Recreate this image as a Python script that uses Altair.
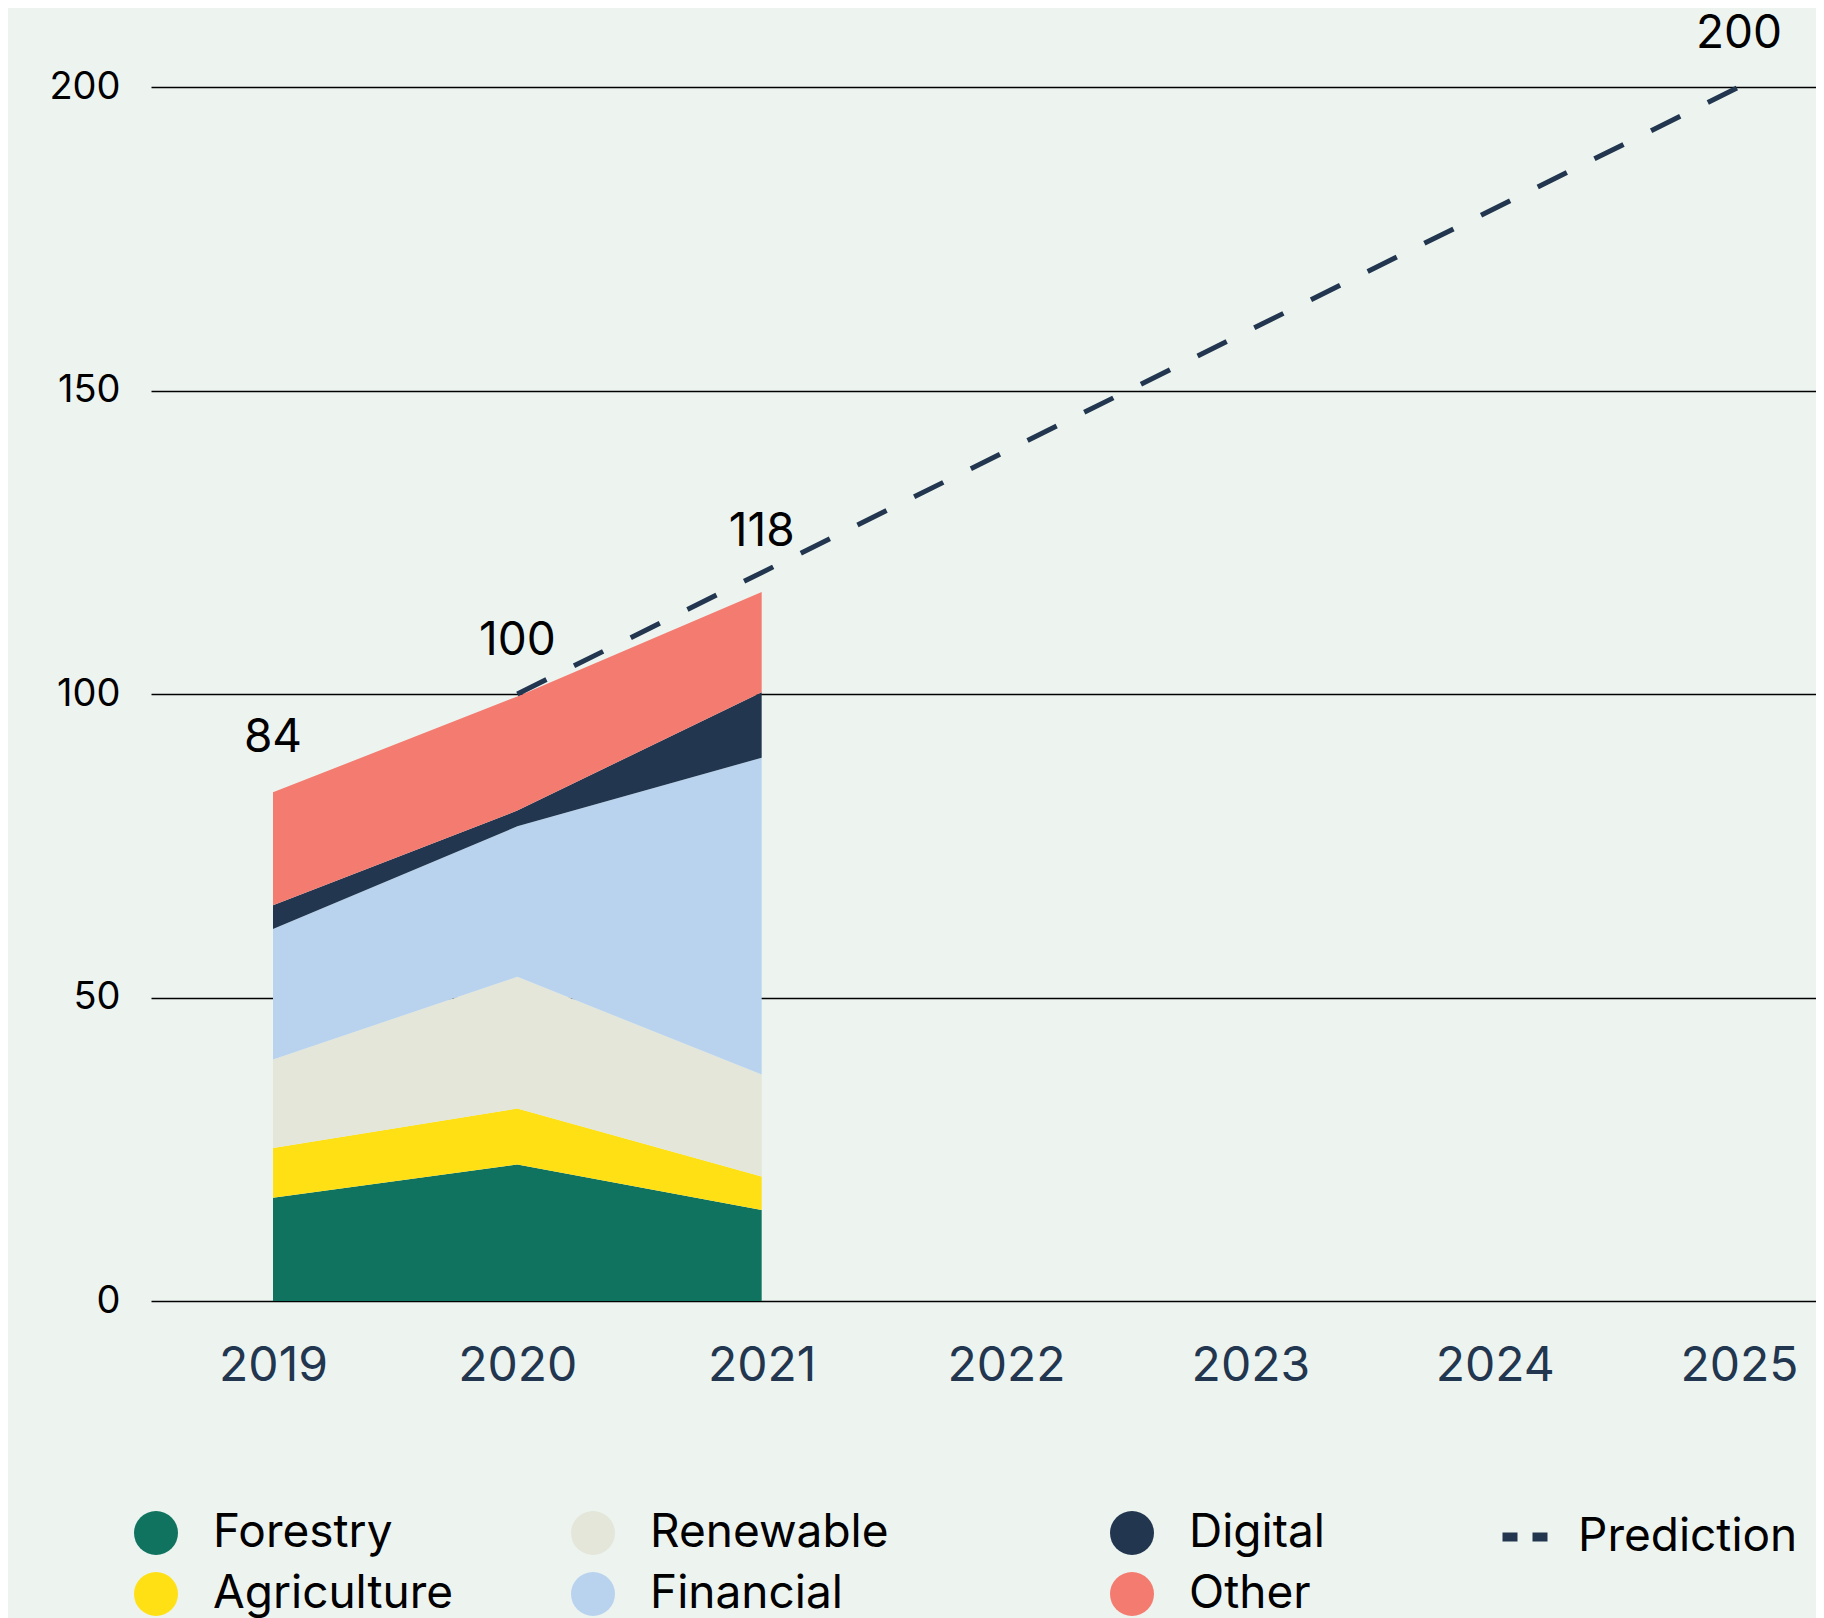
import altair as alt
import pandas as pd

FONT = "Inter"

# ---------------- data ----------------
years = [2019, 2020, 2021]
forestry = [17.0, 22.5, 15.0]
agriculture = [8.2, 9.2, 5.5]
renewable = [14.6, 21.7, 16.8]
financial = [21.5, 24.8, 52.2]
digital = [3.9, 2.6, 10.8]
other = [18.6, 18.8, 16.5]

categories = ["Forestry", "Agriculture", "Renewable", "Financial", "Digital", "Other"]
colors = ["#10735f", "#ffe015", "#e3e6d8", "#b9d3ef", "#22364f", "#f47b6f"]

pred_years = [2020, 2025]
pred_values = [100, 200]

label_years = [2019, 2020, 2021, 2025]
label_values = [84, 100, 118, 200]

x_ticks = [2019, 2020, 2021, 2022, 2023, 2024, 2025]
y_ticks = [0, 50, 100, 150, 200]

# ---------------- tables ----------------
series = [forestry, agriculture, renewable, financial, digital, other]
rows = []
cum = [0.0] * len(years)
for cat, vals in zip(categories, series):
    for i, yr in enumerate(years):
        rows.append({"year": yr, "category": cat, "y0": cum[i], "y1": cum[i] + vals[i]})
        cum[i] += vals[i]
stacked = pd.DataFrame(rows)

pred_df = pd.DataFrame({"year": pred_years, "value": pred_values})
pred_key_df = pd.DataFrame({"year": pred_years[:1], "value": pred_values[:1], "series": ["Prediction"]})
label_df = pd.DataFrame({"year": label_years, "value": label_values})

xscale = alt.Scale(domain=[2018.5007, 2025.315], nice=False, zero=False)
yscale = alt.Scale(domain=[0, 200], nice=False)

xaxis = alt.Axis(values=x_ticks, format="d", title=None, grid=False, domain=False, ticks=False,
                 tickSize=0, labelPadding=41, labelFontSize=48, labelColor="#22364f",
                 labelFont=FONT, labelAngle=0)
yaxis = alt.Axis(values=y_ticks, title=None, grid=True, gridColor="#000000", gridWidth=1.3,
                 gridOpacity=1, domain=False, ticks=False, tickSize=0, labelPadding=31,
                 labelFontSize=38, labelColor="#000000", labelFont=FONT)

X = lambda f: alt.X(f, scale=xscale, axis=xaxis)
Y = lambda f: alt.Y(f, scale=yscale, axis=yaxis)

pairs = [(0, 1), (2, 3), (4, 5)]
legend_x = [-18, 419, 958]
LEGEND_Y = 1423

layers = []
for pair, lx in zip(pairs, legend_x):
    cats = [categories[i] for i in pair]
    cols = [colors[i] for i in pair]
    df = stacked[stacked["category"].isin(cats)]
    layer = alt.Chart(df).mark_area(opacity=1, interpolate="linear").encode(
        x=X("year:Q"),
        y=Y("y0:Q"),
        y2="y1:Q",
        color=alt.Color("category:N", scale=alt.Scale(domain=cats, range=cols), sort=cats,
                        legend=alt.Legend(title=None, orient="none", legendX=lx, legendY=LEGEND_Y,
                                          direction="vertical", symbolType="circle", symbolSize=1936,
                                          symbolStrokeWidth=0, symbolOpacity=1, labelFontSize=46,
                                          labelFont=FONT, labelColor="#000000", labelOffset=34,
                                          rowPadding=15, padding=0, labelLimit=600)),
    )
    layers.append(layer)

line = alt.Chart(pred_df).mark_line(color="#22364f", strokeWidth=5, strokeCap="butt",
                                    strokeDash=[32.5, 30.8]).encode(
    x=X("year:Q"),
    y=Y("value:Q"),
)

# legend key for the prediction line (a single point draws no line)
line_key = alt.Chart(pred_key_df).mark_line(color="#22364f", strokeWidth=9, strokeCap="butt").encode(
    x=X("year:Q"),
    y=Y("value:Q"),
    strokeDash=alt.StrokeDash("series:N", scale=alt.Scale(domain=["Prediction"], range=[[15, 15]]),
                              legend=alt.Legend(title=None, orient="none", legendX=1347, legendY=LEGEND_Y,
                                                symbolType="stroke", symbolSize=2025, symbolStrokeWidth=9,
                                                symbolStrokeColor="#22364f",
                                                labelFontSize=46, labelFont=FONT, labelColor="#000000",
                                                labelOffset=26, padding=0, labelLimit=600)),
)

labels = alt.Chart(label_df).mark_text(dy=-53, fontSize=46, font=FONT, color="#000000",
                                       baseline="middle", align="center").encode(
    x=X("year:Q"),
    y=Y("value:Q"),
    text=alt.Text("value:Q", format="d"),
)

chart = alt.layer(*layers, line, line_key, labels).resolve_scale(
    color="independent"
).resolve_legend(color="independent").properties(
    width=1665,
    height=1214,
    autosize=alt.AutoSizeParams(type="none"),
    padding={"left": 143, "top": 79, "right": 0, "bottom": 317},
    background="#edf4f0",
).configure(font=FONT).configure_view(stroke=None)

chart.save("out.html", embed_options={"renderer": "svg", "actions": False})
